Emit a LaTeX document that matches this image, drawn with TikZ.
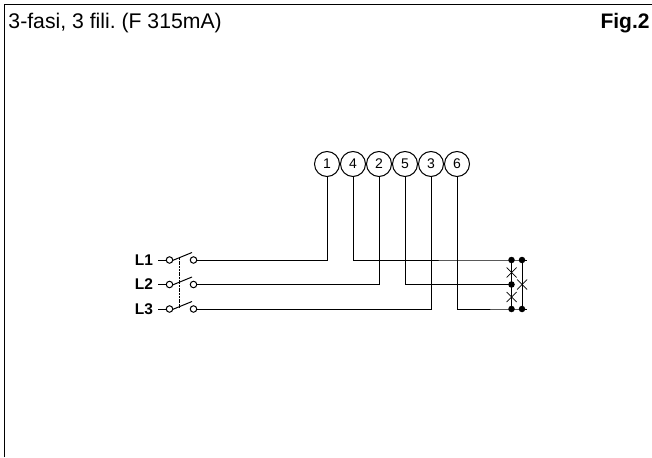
\documentclass[tikz,border=0pt]{standalone}
\usepackage{fontspec}
\setmainfont{Liberation Sans}
\begin{document}
\frenchspacing
\begin{tikzpicture}[x=1pt,y=-1pt,line width=1pt,
 term/.style={circle,draw,minimum size=25pt,inner sep=0pt,font=\fontsize{14}{14}\selectfont},
 contact/.style={circle,draw,minimum size=6.5pt,inner sep=0pt},
 dotj/.style={circle,fill=black,minimum size=6.5pt,inner sep=0pt},
 phase/.style={anchor=east,inner sep=0pt,font=\fontsize{15.5}{15.5}\selectfont\bfseries},
 title/.style={inner sep=0pt,anchor=base west,font=\fontsize{21.2}{21.2}\selectfont},
 xmark/.style={line width=0.7pt}]
\useasboundingbox (0,0) rectangle (652,457);
\fill[white] (0,0) rectangle (652,457);
\coordinate (fbl) at (4.5,457); \coordinate (ftl) at (4.5,4.5); \coordinate (ftr) at (652,4.5);
\draw[line width=1.5pt] (fbl) -- (ftl) -- (ftr);
\node[title] (t1) at (8,29) {3-fasi, 3 fili. (F 315mA)};
\node[title,anchor=base east,font=\fontsize{21}{21}\selectfont\bfseries] (t2) at (650,29) {Fig.2};
\foreach \n/\x/\l in {a/327/1,b/353/4,c/379/2,d/405/5,e/431/3,f/457/6}
  \node[term] (T\n) at (\x,164) {\l};
\foreach \n/\y/\l in {1/260/L1,2/284.5/L2,3/309/L3}{
  \node[phase] (L\n) at (153.5,\y) {\l};
  \node[contact] (cl\n) at (169.5,\y) {};
  \node[contact] (cr\n) at (193.5,\y) {};
  \coordinate (bl\n) at (172.5,\y+0.5);
  \coordinate (bt\n) at (192,\y-7.5);
  \coordinate (bm\n) at (179,\y-2);
  \draw (L\n.east) ++(4.5,0) -- (cl\n.west);
  \draw (bl\n) -- (bt\n);
}
\draw[line width=0.7pt,dash pattern=on 2pt off 0.7pt] (bm1) -- (bm3);
\node[dotj] (J1) at (511.5,260) {}; \node[dotj] (K1) at (522,260) {};
\node[dotj] (J2) at (511.5,284.5) {};
\node[dotj] (J3) at (511.5,309) {}; \node[dotj] (K3) at (522,309) {};
\draw (cr1.east) -| (Ta.south);
\draw (cr2.east) -| (Tc.south);
\draw (cr3.east) -| (Te.south);
\draw (Tb.south) |- (K1.center) -- ++(4.5,0);
\draw (Td.south) |- (J2.center);
\draw (Tf.south) |- (K3.center) -- ++(4.5,0);
\draw (J1.center) -- (J3.center);
\draw (K1.center) -- (K3.center);
\foreach \n/\x/\y in {xa/511.5/272.5,xb/511.5/297,xc/522/284.5}{
  \coordinate (\n) at (\x,\y);
  \draw[xmark] (\n) ++(-5,-5) -- ++(10,10);
  \draw[xmark] (\n) ++(-5,5) -- ++(10,-10);
}
\end{tikzpicture}
\end{document}
